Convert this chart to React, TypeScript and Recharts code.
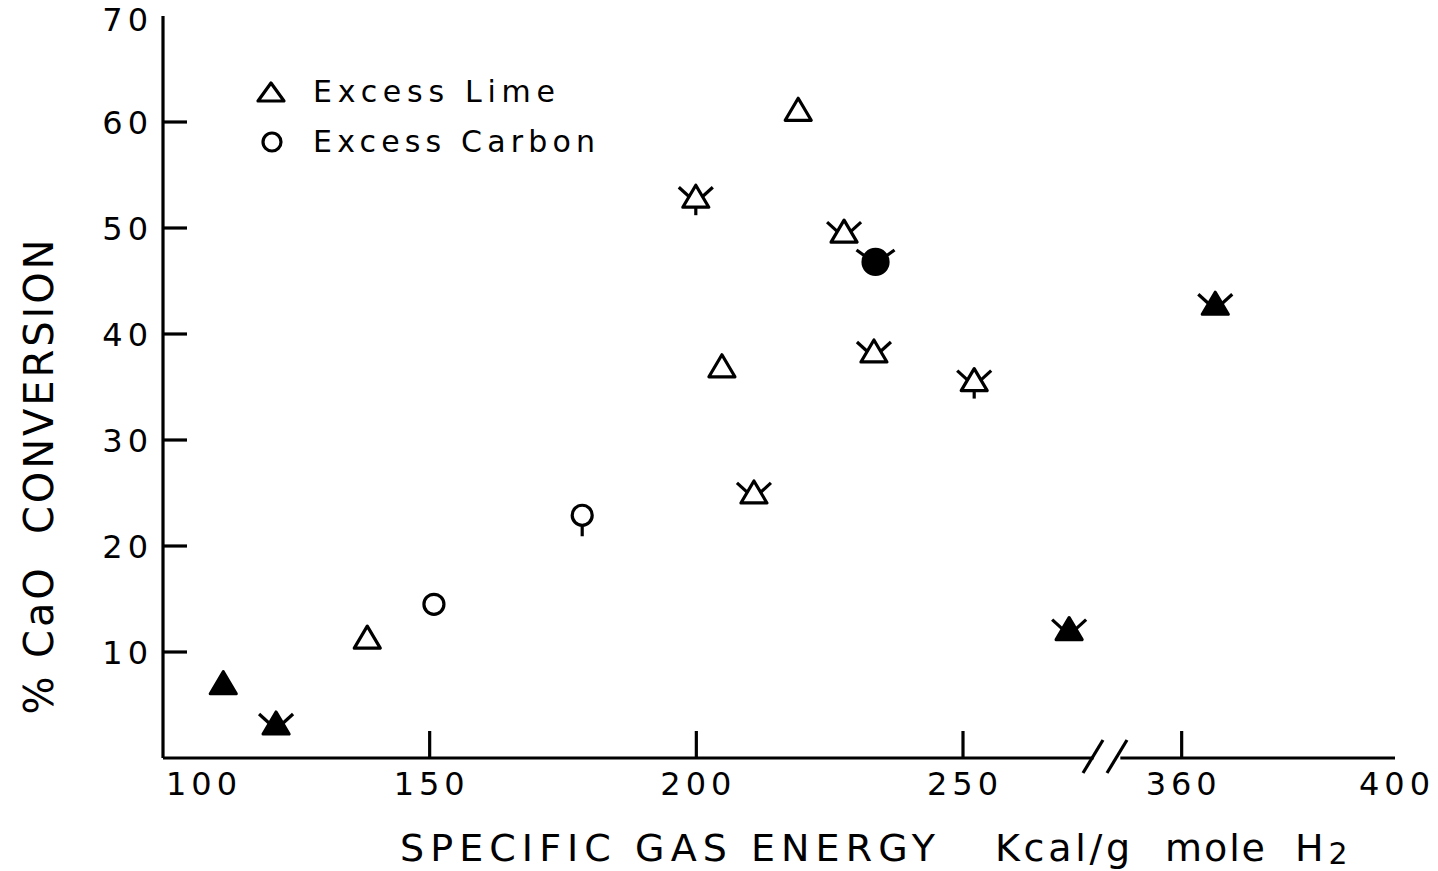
import { ScatterChart, Scatter, XAxis, YAxis, ReferenceLine, ReferenceDot, Legend } from "recharts";

// specific gas energy (kcal/g mole H2) vs % CaO conversion, one pair of arrays per symbol
const limeOpenX = [138.3, 204.8, 219.1];
const limeOpenY = [11.4, 37.0, 61.2];
const limeFilledX = [111.3];
const limeFilledY = [7.1];
const limeFilledWingX = [121.2, 269.9, 366.3];
const limeFilledWingY = [3.3, 12.2, 42.9];
const limeWingX = [210.8, 227.7, 233.3];
const limeWingY = [25.1, 49.7, 38.4];
const limeWingStemX = [199.9, 252.1];
const limeWingStemY = [53.0, 35.7];
const carbonOpenX = [150.8];
const carbonOpenY = [14.5];
const carbonStemX = [178.6];
const carbonStemY = [22.9];
const carbonFilledWingX = [233.6];
const carbonFilledWingY = [46.8];

const xTicks = [100, 150, 200, 250, 360, 400];
const xTopTicks = [150, 200, 250, 360];
const yTicks = [10, 20, 30, 40, 50, 60, 70];
const yRightTicks = [10, 20, 30, 40, 50, 60];
const legendNames = ["Excess Lime", "Excess Carbon"];

// the x axis is broken between ~277 and ~355
const SHIFT = 69;
const toAxis = (v: number) => (v >= 300 ? v - SHIFT : v);
const fromAxis = (v: number) => (v > 285 ? v + SHIFT : v);

const FONT = "'DejaVu Sans', 'Noto Sans', sans-serif";
const INK = "#000";
const SW = 3.2;

const pts = (xs: number[], ys: number[]) => xs.map((x, i) => ({ x: toAxis(x), y: ys[i] }));

type Kind = { tri: boolean; filled: boolean; wings?: boolean; stem?: boolean };

function marker(k: Kind) {
  return (p: any) => {
    const { cx, cy } = p;
    if (cx == null || cy == null) return <g />;
    const parts: any[] = [];
    if (k.tri) {
      parts.push(
        <polygon
          key="b"
          points={`${cx},${cy - 11} ${cx + 13},${cy + 11} ${cx - 13},${cy + 11}`}
          fill={k.filled ? INK : "#fff"}
          stroke={INK}
          strokeWidth={SW}
          strokeLinejoin="round"
        />
      );
      if (k.wings) {
        parts.push(<line key="wl" x1={cx - 17} y1={cy - 9} x2={cx - 6} y2={cy + 1} stroke={INK} strokeWidth={SW} />);
        parts.push(<line key="wr" x1={cx + 17} y1={cy - 9} x2={cx + 6} y2={cy + 1} stroke={INK} strokeWidth={SW} />);
      }
      if (k.stem) parts.push(<line key="s" x1={cx} y1={cy + 11} x2={cx} y2={cy + 19} stroke={INK} strokeWidth={SW} />);
    } else {
      const r = k.filled ? 12.5 : 10;
      parts.push(<circle key="b" cx={cx} cy={cy} r={r} fill={k.filled ? INK : "#fff"} stroke={INK} strokeWidth={SW} />);
      if (k.wings) {
        parts.push(<line key="wl" x1={cx - 19} y1={cy - 12} x2={cx - 8} y2={cy - 4} stroke={INK} strokeWidth={SW} />);
        parts.push(<line key="wr" x1={cx + 19} y1={cy - 12} x2={cx + 8} y2={cy - 4} stroke={INK} strokeWidth={SW} />);
      }
      if (k.stem) parts.push(<line key="s" x1={cx} y1={cy + r} x2={cx} y2={cy + r + 11} stroke={INK} strokeWidth={SW} />);
    }
    return <g>{parts}</g>;
  };
}

const tickText = { fontFamily: FONT, fontSize: 32, letterSpacing: 5, fill: INK };

function BottomTick(p: any) {
  const v = fromAxis(p.payload.value);
  const edge = v === 100 || v === 400;
  return (
    <g>
      {!edge && <line x1={p.x} y1={p.y} x2={p.x} y2={p.y - 27} stroke={INK} strokeWidth={SW} />}
      <text x={v === 100 ? p.x + 3 : p.x + 2} y={p.y + 37} textAnchor={v === 100 ? "start" : "middle"} {...tickText}>
        {v}
      </text>
    </g>
  );
}

function TopTick(p: any) {
  return <line x1={p.x} y1={p.y} x2={p.x} y2={p.y + 26} stroke={INK} strokeWidth={SW} />;
}

function LeftTick(p: any) {
  const v = p.payload.value;
  return (
    <g>
      {v !== 70 && <line x1={p.x} y1={p.y} x2={p.x + 24} y2={p.y} stroke={INK} strokeWidth={SW} />}
      <text x={p.x - 10} y={p.y + (v === 70 ? 15 : 12)} textAnchor="end" {...tickText}>
        {v}
      </text>
    </g>
  );
}

function RightTick(p: any) {
  return <line x1={p.x} y1={p.y} x2={p.x - 28} y2={p.y} stroke={INK} strokeWidth={SW} />;
}

function XLabel(p: any) {
  const vb = p.viewBox || { x: 163, y: 758 };
  const x0 = vb.x;
  const base = vb.y + 103;
  const st = { fontFamily: FONT, fontSize: 38, fill: INK };
  return (
    <g>
      <text x={x0 + 237} y={base} textLength={535} lengthAdjust="spacing" {...st}>
        SPECIFIC GAS ENERGY
      </text>
      <text x={x0 + 832} y={base} textLength={135} lengthAdjust="spacing" {...st}>
        Kcal/g
      </text>
      <text x={x0 + 1002} y={base} textLength={100} lengthAdjust="spacing" {...st}>
        mole
      </text>
      <text x={x0 + 1132} y={base} {...st}>
        H
        <tspan dx={5} dy={3} fontSize={30}>
          2
        </tspan>
      </text>
    </g>
  );
}

function YLabel() {
  const cx = 39;
  const cy = 477;
  return (
    <text
      x={cx}
      y={cy}
      transform={`rotate(-90 ${cx} ${cy})`}
      textAnchor="middle"
      dominantBaseline="central"
      textLength={475}
      lengthAdjust="spacing"
      fontFamily={FONT}
      fontSize={40}
      fill={INK}
      style={{ whiteSpace: "pre" }}
    >
      {"% CaO  CONVERSION"}
    </text>
  );
}

function BreakMark(p: any) {
  const { cx, cy } = p;
  return (
    <g>
      <line x1={cx - 24} y1={cy + 15} x2={cx - 4} y2={cy - 18} stroke={INK} strokeWidth={SW} />
      <line x1={cx} y1={cy + 15} x2={cx + 20} y2={cy - 18} stroke={INK} strokeWidth={SW} />
    </g>
  );
}

function LegendBox(props: any) {
  const items = legendNames
    .map((n) => (props.payload || []).find((e: any) => e.value === n))
    .filter(Boolean);
  return (
    <div>
      {items.map((e: any) => (
        <svg key={e.value} width={380} height={50} style={{ display: "block" }}>
          {e.value === "Excess Lime" ? (
            <polygon points="21,16 34,34 8,34" fill="none" stroke={INK} strokeWidth={SW} strokeLinejoin="round" />
          ) : (
            <circle cx={22} cy={25} r={9} fill="none" stroke={INK} strokeWidth={SW} />
          )}
          <text
            x={63}
            y={35}
            fontFamily={FONT}
            fontSize={30}
            fill={INK}
            textLength={e.value === "Excess Lime" ? 242 : 282}
            lengthAdjust="spacing"
          >
            {e.value}
          </text>
        </svg>
      ))}
    </div>
  );
}

export default function App() {
  const xDomain = [100, toAxis(400)];
  return (
    <div style={{ position: "absolute", left: 0, top: 0, background: "#fff" }}>
      <ScatterChart width={1438} height={871} margin={{ top: 16, right: 43, left: 0, bottom: 0 }}>
        <XAxis
          type="number"
          dataKey="x"
          domain={xDomain}
          ticks={xTicks.map(toAxis)}
          interval={0}
          allowDataOverflow
          height={113}
          axisLine={false}
          tickLine={false}
          tickSize={0}
          tickMargin={0}
          tick={<BottomTick />}
          label={<XLabel />}
        />
        <XAxis
          xAxisId="top"
          orientation="top"
          type="number"
          dataKey="x"
          domain={xDomain}
          ticks={xTopTicks.map(toAxis)}
          interval={0}
          allowDataOverflow
          height={0}
          axisLine={{ stroke: INK, strokeWidth: SW }}
          tickLine={false}
          tickSize={0}
          tickMargin={0}
          tick={<TopTick />}
        />
        <YAxis
          type="number"
          dataKey="y"
          domain={[0, 70]}
          ticks={yTicks}
          interval={0}
          allowDataOverflow
          width={163}
          axisLine={{ stroke: INK, strokeWidth: SW }}
          tickLine={false}
          tickSize={0}
          tickMargin={0}
          tick={<LeftTick />}
          label={<YLabel />}
        />
        <YAxis
          yAxisId="right"
          orientation="right"
          type="number"
          dataKey="y"
          domain={[0, 70]}
          ticks={yRightTicks}
          interval={0}
          allowDataOverflow
          width={0}
          axisLine={{ stroke: INK, strokeWidth: SW }}
          tickLine={false}
          tickSize={0}
          tickMargin={0}
          tick={<RightTick />}
        />
        <ReferenceLine segment={[{ x: 100, y: 0 }, { x: 274.5, y: 0 }]} stroke={INK} strokeWidth={SW} ifOverflow="visible" />
        <ReferenceLine segment={[{ x: 279.5, y: 0 }, { x: toAxis(400), y: 0 }]} stroke={INK} strokeWidth={SW} ifOverflow="visible" />
        <ReferenceDot x={277} y={0} ifOverflow="visible" shape={<BreakMark />} />
        <Legend
          layout="vertical"
          align="center"
          verticalAlign="middle"
          wrapperStyle={{ left: 250, top: 67, width: 400 }}
          content={<LegendBox />}
        />
        <Scatter name="Excess Lime" data={pts(limeOpenX, limeOpenY)} shape={marker({ tri: true, filled: false })} isAnimationActive={false} />
        <Scatter legendType="none" data={pts(limeFilledX, limeFilledY)} shape={marker({ tri: true, filled: true })} isAnimationActive={false} />
        <Scatter legendType="none" data={pts(limeFilledWingX, limeFilledWingY)} shape={marker({ tri: true, filled: true, wings: true })} isAnimationActive={false} />
        <Scatter legendType="none" data={pts(limeWingX, limeWingY)} shape={marker({ tri: true, filled: false, wings: true })} isAnimationActive={false} />
        <Scatter legendType="none" data={pts(limeWingStemX, limeWingStemY)} shape={marker({ tri: true, filled: false, wings: true, stem: true })} isAnimationActive={false} />
        <Scatter name="Excess Carbon" data={pts(carbonOpenX, carbonOpenY)} shape={marker({ tri: false, filled: false })} isAnimationActive={false} />
        <Scatter legendType="none" data={pts(carbonStemX, carbonStemY)} shape={marker({ tri: false, filled: false, stem: true })} isAnimationActive={false} />
        <Scatter legendType="none" data={pts(carbonFilledWingX, carbonFilledWingY)} shape={marker({ tri: false, filled: true, wings: true })} isAnimationActive={false} />
      </ScatterChart>
    </div>
  );
}
